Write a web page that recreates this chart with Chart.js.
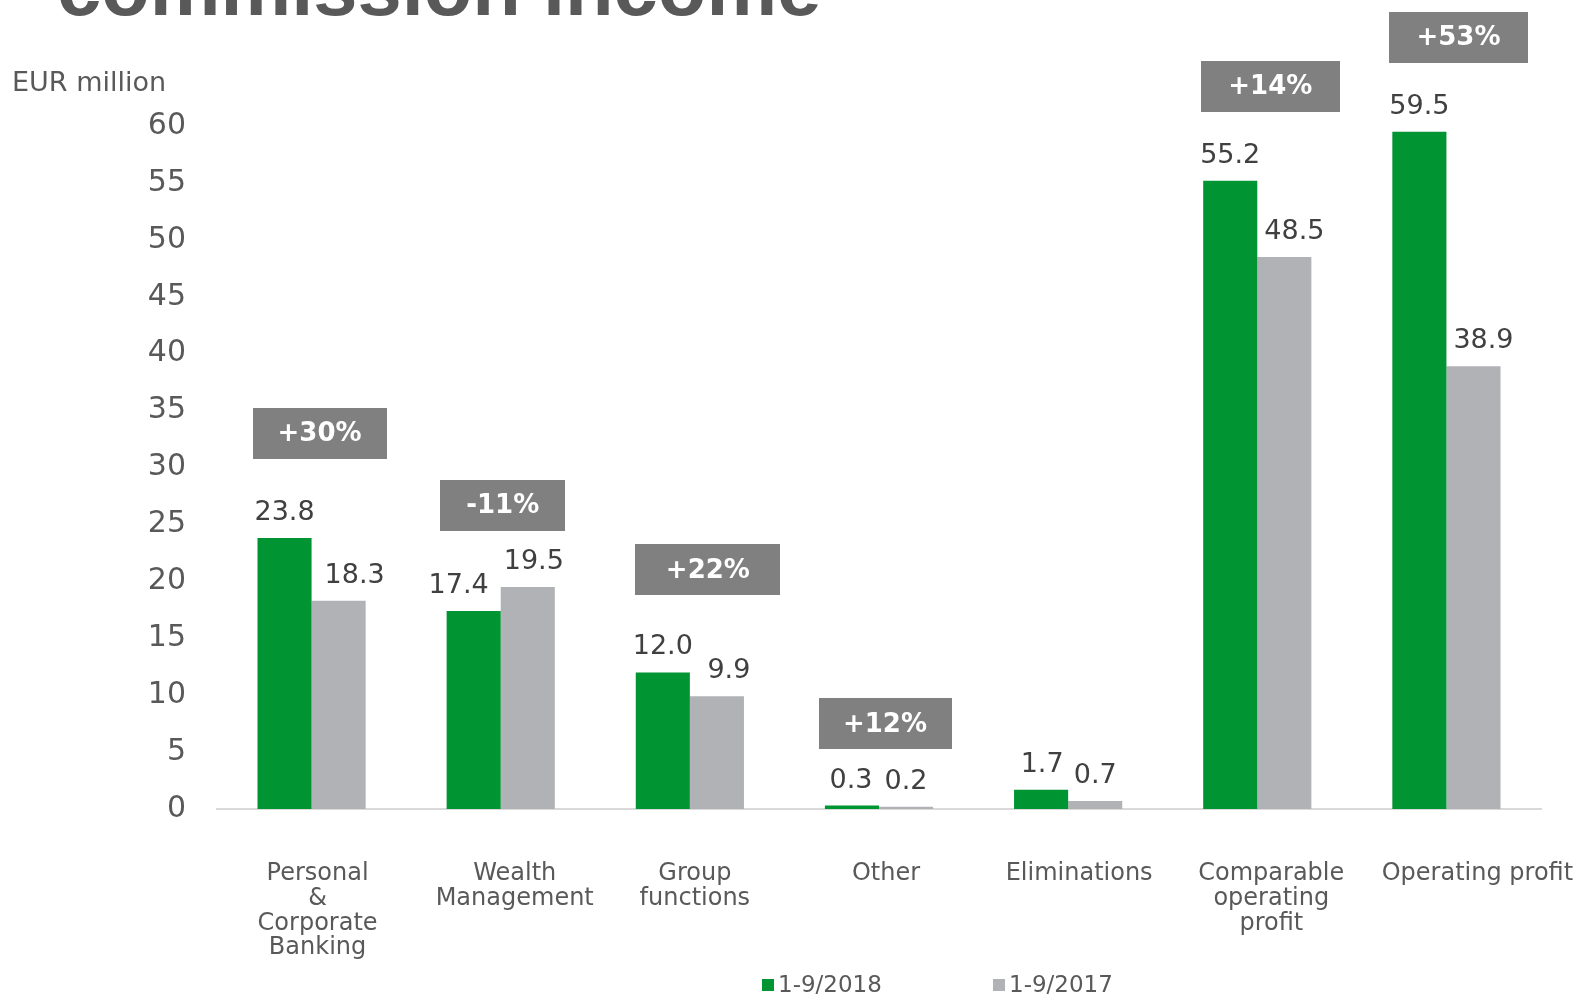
<!DOCTYPE html>
<html>
<head>
<meta charset="utf-8">
<script src="https://cdn.jsdelivr.net/npm/chart.js@4/dist/chart.umd.min.js"></script>
<style>
  html, body { margin: 0; padding: 0; background: #ffffff; }
  #wrap { position: relative; width: 1578px; height: 994px; overflow: hidden; }
  canvas { display: block; }
</style>
</head>
<body>
<div id="wrap"><canvas id="c" width="1578" height="994"></canvas></div>
<script>
// ---- data ----
const titleText = "commission income";
const unitLabel = "EUR million";
const categories = [
  ["Personal", "&", "Corporate", "Banking"],
  ["Wealth", "Management"],
  ["Group", "functions"],
  ["Other"],
  ["Eliminations"],
  ["Comparable", "operating", "profit"],
  ["Operating profit"]
];
const seriesNames = ["1-9/2018", "1-9/2017"];
const values2018 = [23.8, 17.4, 12.0, 0.3, 1.7, 55.2, 59.5];
const values2017 = [18.3, 19.5, 9.9, 0.2, 0.7, 48.5, 38.9];
const changeLabels = ["+30%", "-11%", "+22%", "+12%", null, "+14%", "+53%"];
const yTickValues = [0, 5, 10, 15, 20, 25, 30, 35, 40, 45, 50, 55, 60];

// ---- style / placement (not data) ----
const GREEN = "#009432";
const GREY = "#b1b2b6";
const BOX = "#808080";
const TEXT = "#595959";
const LABEL_TEXT = "#404040";
const FONT = "'DejaVu Sans', Verdana, sans-serif";
const boxCenterY = [33.0, 26.7, 21.0, 7.47, null, 63.5, 67.8];   // in axis units
const boxShiftX = [8, 2, 18, 6, 0, 13, 12];
const boxWidths = [134, 125, 145, 133, 0, 139, 139];
const boxHeight = 51;
const labelShift = [
  [0, -15, 0, -1, 1, 0, 0],
  [16, 6, 12, 0, 0, 10, 10]
];
const catShiftX = [6, 14, 5, 7, 11, 14, 31];

const overlay = {
  id: "overlay",
  afterDraw(chart) {
    const ctx = chart.ctx;
    const xs = chart.scales.x, ys = chart.scales.y;
    ctx.save();

    // title (cut off at top)
    ctx.font = "bold 79.5px 'Liberation Sans', Arial, sans-serif";
    ctx.fillStyle = TEXT;
    ctx.textAlign = "left";
    ctx.textBaseline = "alphabetic";
    ctx.fillText(titleText, 57, 15);

    // unit label
    ctx.font = "27px " + FONT;
    ctx.fillStyle = TEXT;
    ctx.textBaseline = "middle";
    ctx.fillText(unitLabel, 12, 84);

    // value labels
    ctx.font = "27px " + FONT;
    ctx.fillStyle = LABEL_TEXT;
    ctx.textAlign = "center";
    chart.data.datasets.forEach((ds, di) => {
      const meta = chart.getDatasetMeta(di);
      meta.data.forEach((bar, i) => {
        const v = ds.data[i];
        ctx.fillText(v.toFixed(1), bar.x + labelShift[di][i], bar.y - 25);
      });
    });

    // change boxes
    changeLabels.forEach((txt, i) => {
      if (!txt) return;
      const cx = xs.getPixelForValue(i) + boxShiftX[i];
      const cy = ys.getPixelForValue(boxCenterY[i]);
      const w = boxWidths[i];
      ctx.fillStyle = BOX;
      ctx.fillRect(Math.round(cx - w / 2), Math.round(cy - boxHeight / 2), w, boxHeight);
      ctx.fillStyle = "#ffffff";
      ctx.font = "bold 26px " + FONT;
      ctx.textAlign = "center";
      ctx.textBaseline = "middle";
      ctx.fillText(txt, cx, cy + 1);
    });

    // category labels
    ctx.font = "24px " + FONT;
    ctx.fillStyle = TEXT;
    ctx.textAlign = "center";
    ctx.textBaseline = "middle";
    chart.data.labels.forEach((lines, i) => {
      const cx = xs.getPixelForValue(i) + catShiftX[i];
      lines.forEach((ln, k) => {
        ctx.fillText(ln, cx, 874 + k * 24.7);
      });
    });

    // legend
    ctx.font = "23px " + FONT;
    ctx.textAlign = "left";
    ctx.textBaseline = "middle";
    const legendX = [762, 993];
    chart.data.datasets.forEach((ds, di) => {
      ctx.fillStyle = ds.backgroundColor;
      ctx.fillRect(legendX[di], 979, 12, 12);
      ctx.fillStyle = TEXT;
      ctx.fillText(ds.label, legendX[di] + 16, 986);
    });

    ctx.restore();
  }
};

new Chart(document.getElementById("c"), {
  type: "bar",
  data: {
    labels: categories,
    datasets: [
      { label: seriesNames[0], data: values2018, backgroundColor: GREEN,
        categoryPercentage: 0.572, barPercentage: 1.0 },
      { label: seriesNames[1], data: values2017, backgroundColor: GREY,
        categoryPercentage: 0.572, barPercentage: 1.0 }
    ]
  },
  options: {
    responsive: false,
    animation: false,
    layout: { padding: { left: 0, right: 37, top: 126, bottom: 0 } },
    plugins: { legend: { display: false }, tooltip: { enabled: false } },
    scales: {
      x: {
        grid: { display: false, drawTicks: false },
        border: { display: true, color: "#d9d9d9", width: 2 },
        ticks: { display: false },
        afterFit(scale) { scale.height = 185; }
      },
      y: {
        min: 0, max: 60,
        grid: { display: false, drawTicks: false },
        border: { display: false },
        afterBuildTicks(scale) { scale.ticks = yTickValues.map(v => ({ value: v })); },
        ticks: {
          color: TEXT,
          font: { family: FONT, size: 30 },
          padding: 31
        },
        afterFit(scale) { scale.width = 217; }
      }
    }
  },
  plugins: [overlay]
});
</script>
</body>
</html>
